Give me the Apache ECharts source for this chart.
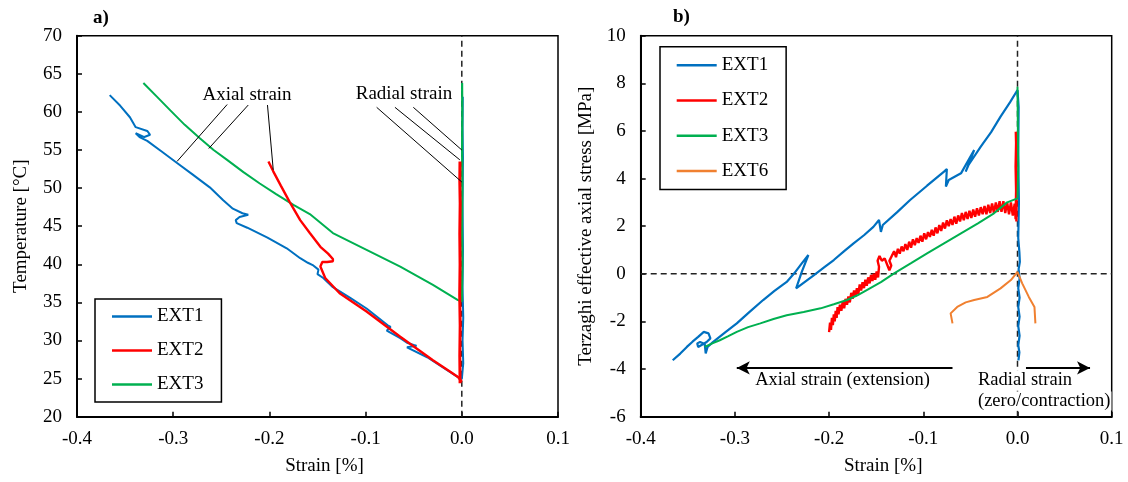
<!DOCTYPE html>
<html>
<head>
<meta charset="utf-8">
<script src="https://cdn.jsdelivr.net/npm/echarts@6/dist/echarts.min.js"></script>
<style>html,body{margin:0;padding:0;background:#fff}#c{width:1128px;height:482px}</style>
</head>
<body>
<div id="c"></div>
<script>
// ---------- DATA ----------
const seriesNames = ['EXT1', 'EXT2', 'EXT3'];
const seriesNamesB = ['EXT1', 'EXT2', 'EXT3', 'EXT6'];
const xTicksA = [-0.4, -0.3, -0.2, -0.1, 0.0, 0.1];
const yTicksA = [20, 25, 30, 35, 40, 45, 50, 55, 60, 65, 70];
const yTicksB = [-6, -4, -2, 0, 2, 4, 6, 8, 10];

// Panel a) temperature vs strain
const ext1AxialA = [[-0.366,62.2],[-0.355,60.8],[-0.345,59.3],[-0.339,58.0],[-0.327,57.5],[-0.324,57.0],[-0.330,56.7],[-0.339,57.2],[-0.335,56.7],[-0.327,56.2],[-0.312,54.8],[-0.296,53.3],[-0.280,51.8],[-0.262,50.1],[-0.248,48.4],[-0.238,47.3],[-0.228,46.7],[-0.222,46.5],[-0.231,46.2],[-0.235,45.8],[-0.234,45.4],[-0.223,44.8],[-0.202,43.5],[-0.182,42.1],[-0.168,40.8],[-0.160,40.2],[-0.155,39.9],[-0.149,39.3],[-0.150,38.7],[-0.144,38.2],[-0.134,37.0],[-0.116,35.6],[-0.099,34.2],[-0.077,32.0],[-0.074,31.8],[-0.078,31.3],[-0.064,30.3],[-0.057,29.7],[-0.047,29.3],[-0.057,29.1],[-0.036,27.8],[-0.020,26.5],[-0.004,25.2],[0.000,24.9]];
const ext1RadialA = [[0.000,24.9],[0.0015,27.0],[0.0008,30.0],[0.0015,33.0],[0.0008,37.0],[0.0012,42.0],[0.0008,48.0],[0.0012,54.0],[0.0008,58.0],[0.001,62.0]];
const ext2AxialA = [[-0.201,53.5],[-0.196,52.2],[-0.188,50.3],[-0.179,48.2],[-0.168,45.8],[-0.158,44.1],[-0.147,42.3],[-0.139,41.4],[-0.134,40.7],[-0.134,40.4],[-0.140,40.3],[-0.145,40.3],[-0.147,39.7],[-0.142,38.2],[-0.127,36.2],[-0.099,33.8],[-0.064,30.5],[-0.030,27.4],[-0.012,25.9],[-0.004,25.2],[0.000,24.6]];
const ext2RadialA = [[-0.0018,24.4],[-0.0021,28.0],[-0.0017,32.0],[-0.0022,36.0],[-0.0018,40.0],[-0.0021,44.0],[-0.0017,48.0],[-0.0021,51.0],[-0.0019,53.5]];
const ext3AxialA = [[-0.331,63.8],[-0.317,62.0],[-0.303,60.2],[-0.288,58.3],[-0.272,56.5],[-0.258,55.0],[-0.244,53.7],[-0.227,52.1],[-0.210,50.6],[-0.193,49.2],[-0.175,47.8],[-0.158,46.6],[-0.134,44.1],[-0.099,41.9],[-0.064,39.7],[-0.030,37.3],[-0.004,35.3],[0.000,35.1]];
const ext3RadialA = [[0.000,35.1],[0.0006,40.0],[0.0002,45.0],[0.0006,50.0],[0.0003,55.0],[0.0005,60.0],[0.0003,63.8]];
const zeroLineA = [[0, 20], [0, 70]];

// Panel b) Terzaghi effective axial stress vs strain
const ext1B = [[-0.366,-3.63],[-0.358,-3.35],[-0.351,-3.07],[-0.345,-2.85],[-0.339,-2.65],[-0.333,-2.44],[-0.328,-2.50],[-0.326,-2.71],[-0.330,-2.86],[-0.339,-3.07],[-0.340,-2.92],[-0.337,-2.86],[-0.332,-2.95],[-0.331,-3.34],[-0.329,-3.07],[-0.323,-2.86],[-0.310,-2.45],[-0.298,-2.08],[-0.285,-1.62],[-0.270,-1.10],[-0.258,-0.72],[-0.245,-0.34],[-0.237,0.02],[-0.229,0.44],[-0.222,0.79],[-0.229,0.08],[-0.235,-0.61],[-0.216,-0.05],[-0.205,0.28],[-0.195,0.58],[-0.184,0.95],[-0.174,1.28],[-0.163,1.62],[-0.153,1.97],[-0.147,2.26],[-0.145,1.76],[-0.143,2.05],[-0.128,2.58],[-0.114,3.10],[-0.096,3.70],[-0.078,4.29],[-0.075,4.40],[-0.076,3.66],[-0.073,3.94],[-0.060,4.22],[-0.046,5.20],[-0.055,4.29],[-0.052,4.57],[-0.039,5.34],[-0.028,5.95],[-0.018,6.60],[-0.008,7.20],[0.000,7.72],[0.0012,7.0],[0.0008,5.0],[0.0015,3.0],[0.0008,1.5],[0.002,0.9],[0.0025,0.5],[0.0012,0.2],[0.0022,-0.2],[0.0008,-0.6],[0.0022,-1.0],[0.0008,-1.4],[0.0022,-1.8],[0.0008,-2.2],[0.0022,-2.6],[0.0008,-3.0],[0.0020,-3.3],[0.0010,-3.63]];
const ext2B = [[-0.2000,-2.45],[-0.1990,-2.05],[-0.1980,-2.35],[-0.1970,-1.85],[-0.1960,-2.15],[-0.1950,-1.70],[-0.1940,-2.00],[-0.1930,-1.55],[-0.1920,-1.85],[-0.1910,-1.40],[-0.1900,-1.70],[-0.1885,-1.30],[-0.1870,-1.55],[-0.1855,-1.15],[-0.1840,-1.45],[-0.1825,-1.05],[-0.1810,-1.30],[-0.1795,-0.95],[-0.1780,-1.20],[-0.1765,-0.80],[-0.1750,-1.05],[-0.1735,-0.70],[-0.1720,-0.95],[-0.1705,-0.60],[-0.1690,-0.85],[-0.1675,-0.45],[-0.1660,-0.70],[-0.1645,-0.35],[-0.1630,-0.60],[-0.1615,-0.25],[-0.1600,-0.50],[-0.1585,-0.15],[-0.1570,-0.40],[-0.1555,-0.05],[-0.1540,-0.30],[-0.1525,0.00],[-0.1510,-0.25],[-0.1495,0.10],[-0.1480,-0.15],[-0.1470,0.30],[-0.1485,0.55],[-0.1465,0.75],[-0.1440,0.55],[-0.1410,0.65],[-0.1380,0.35],[-0.1360,0.15],[-0.1340,0.35],[-0.1360,0.55],[-0.1335,0.75],[-0.1310,0.95],[-0.1290,0.70],[-0.1270,1.05],[-0.1250,0.85],[-0.1230,1.15],[-0.1210,0.95],[-0.1190,1.25],[-0.1170,1.00],[-0.1150,1.35],[-0.1130,1.10],[-0.1110,1.45],[-0.1090,1.20],[-0.1070,1.50],[-0.1050,1.30],[-0.1030,1.60],[-0.1010,1.35],[-0.0990,1.70],[-0.0970,1.45],[-0.0950,1.75],[-0.0930,1.55],[-0.0910,1.85],[-0.0890,1.60],[-0.0870,1.95],[-0.0850,1.70],[-0.0830,2.05],[-0.0810,1.80],[-0.0790,2.15],[-0.0770,1.90],[-0.0750,2.25],[-0.0730,2.00],[-0.0710,2.30],[-0.0690,2.05],[-0.0670,2.40],[-0.0650,2.10],[-0.0630,2.45],[-0.0610,2.20],[-0.0590,2.55],[-0.0570,2.25],[-0.0550,2.60],[-0.0530,2.30],[-0.0510,2.65],[-0.0490,2.35],[-0.0470,2.70],[-0.0450,2.40],[-0.0430,2.75],[-0.0410,2.45],[-0.0390,2.80],[-0.0370,2.50],[-0.0350,2.85],[-0.0330,2.50],[-0.0310,2.90],[-0.0290,2.55],[-0.0270,2.95],[-0.0250,2.55],[-0.0230,3.00],[-0.0210,2.60],[-0.0190,3.05],[-0.0170,2.60],[-0.0150,3.05],[-0.0130,2.55],[-0.0110,3.00],[-0.0090,2.50],[-0.0070,3.00],[-0.0050,2.45],[-0.0030,2.95],[-0.0020,2.30],[-0.0015,3.50],[-0.0020,4.50],[-0.0015,5.50],[-0.0018,5.97],[-0.0012,5.00],[-0.0015,4.00],[-0.0010,3.00],[-0.0012,2.20]];
const ext3B = [[-0.332,-3.07],[-0.324,-2.92],[-0.316,-2.79],[-0.307,-2.62],[-0.298,-2.44],[-0.286,-2.24],[-0.273,-2.08],[-0.259,-1.90],[-0.245,-1.74],[-0.227,-1.60],[-0.209,-1.45],[-0.195,-1.28],[-0.181,-1.10],[-0.170,-0.90],[-0.160,-0.68],[-0.145,-0.35],[-0.131,0.02],[-0.113,0.45],[-0.096,0.86],[-0.078,1.28],[-0.060,1.70],[-0.042,2.12],[-0.025,2.54],[-0.011,3.00],[0.000,3.17],[0.0008,4.5],[0.0004,6.0],[0.000,7.86]];
const ext6B = [[-0.069,-2.08],[-0.071,-1.66],[-0.064,-1.39],[-0.055,-1.20],[-0.046,-1.10],[-0.032,-0.97],[-0.018,-0.61],[-0.007,-0.26],[0.000,0.08],[0.005,-0.40],[0.012,-0.97],[0.018,-1.39],[0.019,-2.08]];
const zeroVertB = [[0, -6], [0, 10]];
const zeroHorizB = [[-0.4, 0], [0.1, 0]];

// ---------- STYLE ----------
const FONT = 'Liberation Serif';
const C = { EXT1: '#0070C0', EXT2: '#FF0000', EXT3: '#00B050', EXT6: '#F08030' };
const fmtX = v => (Math.abs(v) < 1e-9 ? 0 : v).toFixed(1);

function xAxisCfg(gi) {
  return {
    gridIndex: gi, type: 'value', min: -0.4, max: 0.1, interval: 0.1,
    name: 'Strain [%]', nameLocation: 'middle', nameGap: 40,
    nameTextStyle: { fontFamily: FONT, fontSize: 19, color: '#000', padding: [0, 0, 0, 14] },
    axisLine: { onZero: false, lineStyle: { color: '#000', width: 2 } },
    axisTick: { inside: true, length: 5, lineStyle: { color: '#000', width: 1.5 } },
    axisLabel: { formatter: fmtX, fontFamily: FONT, fontSize: 19, color: '#000', margin: 13 },
    splitLine: { show: false }
  };
}
function yAxisCfg(gi, min, max, interval, name, gap) {
  return {
    gridIndex: gi, type: 'value', min, max, interval,
    name, nameLocation: 'middle', nameGap: gap,
    nameTextStyle: { fontFamily: FONT, fontSize: 19, color: '#000' },
    axisLine: { onZero: false, lineStyle: { color: '#000', width: 2 } },
    axisTick: { inside: true, length: 5, lineStyle: { color: '#000', width: 1.5 } },
    axisLabel: { fontFamily: FONT, fontSize: 19, color: '#000', margin: 15 },
    splitLine: { show: false }
  };
}
function line(name, data, xi, lw, extra) {
  return Object.assign({
    type: 'line', name, data, xAxisIndex: xi, yAxisIndex: xi,
    showSymbol: false, symbol: 'none', silent: true, animation: false, z: 3,
    lineStyle: { color: C[name], width: lw }, itemStyle: { color: C[name] }
  }, extra || {});
}
const dashStyle = { color: '#222', width: 1.5, type: [6, 4] };
const leader = { color: '#000', width: 1, type: 'solid' };
const textBox = (x, y, text, align, size) => ({
  type: 'text', x, y, z: 100,
  style: { text, font: size + 'px "Liberation Serif"', fill: '#000', align, verticalAlign: 'middle', backgroundColor: '#fff', padding: [0, 1] }
});

const option = {
  animation: false,
  backgroundColor: '#fff',
  textStyle: { fontFamily: FONT },
  grid: [
    { left: 77, top: 35.7, width: 481, height: 381, show: true, borderColor: '#000', borderWidth: 1.5, backgroundColor: 'transparent' },
    { left: 640.7, top: 35.7, width: 471, height: 381, show: true, borderColor: '#000', borderWidth: 1.5, backgroundColor: 'transparent' }
  ],
  xAxis: [xAxisCfg(0), xAxisCfg(1)],
  yAxis: [
    yAxisCfg(0, 20, 70, 5, 'Temperature [°C]', 46),
    yAxisCfg(1, -6, 10, 2, 'Terzaghi effective axial stress [MPa]', 45)
  ],
  legend: [
    {
      data: seriesNames.map(n => ({ name: n, icon: 'rect', itemStyle: { color: C[n] } })),
      orient: 'vertical', left: 95, top: 299, itemWidth: 40, itemHeight: 2.5, itemGap: 15,
      padding: [8, 18, 8, 17], borderColor: '#000', borderWidth: 1.5, backgroundColor: '#fff',
      textStyle: { fontFamily: FONT, fontSize: 19, color: '#000' }, selectedMode: false, z: 10
    },
    {
      data: seriesNamesB.map(n => ({ name: n, icon: 'rect', itemStyle: { color: C[n] } })),
      orient: 'vertical', left: 660, top: 46.7, itemWidth: 40, itemHeight: 2.5, itemGap: 16.3,
      padding: [9, 18, 9, 16.7], borderColor: '#000', borderWidth: 1.5, backgroundColor: '#fff',
      textStyle: { fontFamily: FONT, fontSize: 19, color: '#000' }, selectedMode: false, z: 10
    }
  ],
  series: [
    // panel a
    {
      type: 'line', name: 'zeroA', data: zeroLineA, xAxisIndex: 0, yAxisIndex: 0,
      showSymbol: false, symbol: 'none', silent: true, lineStyle: dashStyle, z: 1,
      markLine: {
        silent: true, symbol: 'none', label: { show: false }, lineStyle: leader, animation: false,
        emphasis: { disabled: true },
        data: [
          [{ coord: [-0.243, 61.1] }, { coord: [-0.296, 53.5] }],
          [{ coord: [-0.222, 60.9] }, { coord: [-0.263, 55.2] }],
          [{ coord: [-0.202, 60.9] }, { coord: [-0.196, 52.4] }],
          [{ coord: [-0.0885, 60.6] }, { coord: [0.0, 50.8] }],
          [{ coord: [-0.0695, 60.6] }, { coord: [-0.002, 53.7] }],
          [{ coord: [-0.0504, 60.6] }, { coord: [0.0, 55.0] }]
        ]
      }
    },
    line('EXT1', ext1AxialA, 0, 2),
    line('EXT1', ext1RadialA, 0, 2),
    line('EXT3', ext3AxialA, 0, 2),
    line('EXT3', ext3RadialA, 0, 2.2),
    line('EXT2', ext2AxialA, 0, 2.4),
    line('EXT2', ext2RadialA, 0, 3),
    // panel b
    {
      type: 'line', name: 'zeroVB', data: zeroVertB, xAxisIndex: 1, yAxisIndex: 1,
      showSymbol: false, symbol: 'none', silent: true, lineStyle: dashStyle, z: 1,
      markLine: {
        silent: true, symbol: ['none', 'arrow'], symbolSize: [10, 13], label: { show: false },
        lineStyle: { color: '#000', width: 2, type: 'solid' }, animation: false,
        emphasis: { disabled: true },
        data: [
          [{ coord: [-0.069, -3.95] }, { coord: [-0.298, -3.95] }],
          [{ coord: [0.009, -3.95] }, { coord: [0.077, -3.95] }]
        ]
      }
    },
    {
      type: 'line', name: 'zeroHB', data: zeroHorizB, xAxisIndex: 1, yAxisIndex: 1,
      showSymbol: false, symbol: 'none', silent: true, lineStyle: dashStyle, z: 1
    },
    line('EXT1', ext1B, 1, 2.2),
    line('EXT2', ext2B, 1, 2.4),
    line('EXT3', ext3B, 1, 2),
    line('EXT6', ext6B, 1, 2)
  ],
  graphic: [
    { type: 'text', left: 93, top: 9, style: { text: 'a)', font: 'bold 19px "Liberation Serif"', fill: '#000' } },
    { type: 'text', left: 673, top: 8, style: { text: 'b)', font: 'bold 19px "Liberation Serif"', fill: '#000' } },
    textBox(247, 95, 'Axial strain', 'center', 19),
    textBox(404, 94, 'Radial strain', 'center', 19),
    textBox(842.5, 380, 'Axial strain (extension)', 'center', 18.5),
    textBox(977, 380, 'Radial strain', 'left', 18.5),
    textBox(977, 401, '(zero/contraction)', 'left', 18.5)
  ]
};

const chart = echarts.init(document.getElementById('c'), null, { renderer: 'canvas' });
chart.setOption(option);
</script>
</body>
</html>
